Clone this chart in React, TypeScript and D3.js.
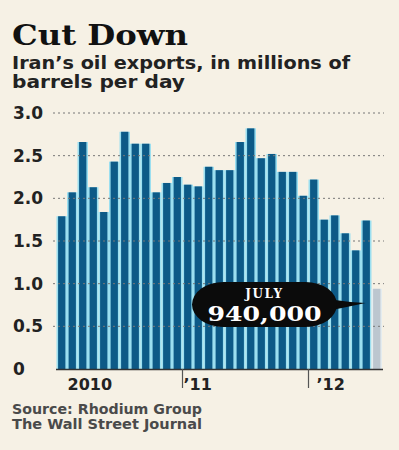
import { useEffect, useRef } from "react";
import * as d3 from "d3";

// monthly exports, Jan 2010 .. Jul 2012 (million barrels/day)
const months = d3.range(31).map((i) => i);
const exportsMbd = [
  1.79, 2.07, 2.66, 2.13, 1.84, 2.43, 2.78, 2.64, 2.64, 2.07, 2.18, 2.25,
  2.16, 2.14, 2.37, 2.33, 2.33, 2.66, 2.82, 2.47, 2.52, 2.31, 2.31, 2.03,
  2.22, 1.75, 1.8, 1.59, 1.39, 1.74, 0.94,
];
const yTicks = [0, 0.5, 1.0, 1.5, 2.0, 2.5, 3.0];
const yearStarts = [0, 12, 24];
const yearLabels = ["2010", "\u201911", "\u201912"];

const App = () => {
  const svgRef = useRef<SVGSVGElement | null>(null);

  useEffect(() => {
    if (!svgRef.current) return;
    document.body.style.margin = "0";

    const width = 399;
    const height = 450;
    const svg = d3.select(svgRef.current).attr("width", width).attr("height", height);
    svg.selectAll("*").remove();

    svg.append("rect").attr("width", width).attr("height", height).attr("fill", "#f6f1e5");

    // titles
    svg
      .append("text")
      .attr("x", 12)
      .attr("y", 45)
      .attr("font-family", "DejaVu Serif")
      .attr("font-weight", "bold")
      .attr("font-size", 27)
      .attr("textLength", 176)
      .attr("lengthAdjust", "spacingAndGlyphs")
      .attr("fill", "#111")
      .text("Cut Down");

    const sub = ["Iran\u2019s oil exports, in millions of", "barrels per day"];
    const subLen = [338, 173];
    sub.forEach((s, i) => {
      svg
        .append("text")
        .attr("x", 12)
        .attr("y", 69 + i * 19)
        .attr("font-family", "DejaVu Sans")
        .attr("font-weight", "bold")
        .attr("font-size", 17)
        .attr("textLength", subLen[i])
        .attr("lengthAdjust", "spacingAndGlyphs")
        .attr("fill", "#222")
        .text(s);
    });

    const x = d3.scaleBand<number>().domain(months).range([56.5, 382]).paddingInner(0);
    const y = d3.scaleLinear().domain([0, 3]).range([369, 113]);

    // bars: light cyan edge, dark core
    const bars = svg.append("g");
    bars
      .selectAll("rect.edge")
      .data(exportsMbd)
      .enter()
      .append("rect")
      .attr("class", "edge")
      .attr("x", (_d, i) => x(i)!)
      .attr("width", x.bandwidth())
      .attr("y", (d) => y(d))
      .attr("height", (d) => y(0) - y(d))
      .attr("fill", (_d, i) => (i === exportsMbd.length - 1 ? "#e4ecef" : "#9bdff0"));
    bars
      .selectAll("rect.core")
      .data(exportsMbd)
      .enter()
      .append("rect")
      .attr("class", "core")
      .attr("x", (_d, i) => x(i)! + 1.6)
      .attr("width", x.bandwidth() - 3.2)
      .attr("y", (d) => y(d))
      .attr("height", (d) => y(0) - y(d))
      .attr("fill", (_d, i) => (i === exportsMbd.length - 1 ? "#bcc6cf" : "#0d5a87"));

    // gridlines
    svg
      .append("g")
      .selectAll("line")
      .data(yTicks.filter((t) => t > 0))
      .enter()
      .append("line")
      .attr("x1", 53)
      .attr("x2", 384)
      .attr("y1", (d) => y(d))
      .attr("y2", (d) => y(d))
      .attr("stroke", "#777")
      .attr("stroke-width", 1)
      .attr("stroke-dasharray", "2,3");

    // y labels
    svg
      .append("g")
      .selectAll("text")
      .data(yTicks)
      .enter()
      .append("text")
      .attr("x", 13)
      .attr("y", (d) => y(d) + 6)
      .attr("font-family", "DejaVu Sans")
      .attr("font-weight", "bold")
      .attr("font-size", 17)
      .attr("fill", "#222")
      .text((d) => (d === 0 ? "0" : d.toFixed(1)));

    // baseline + year ticks
    svg
      .append("line")
      .attr("x1", 56)
      .attr("x2", 383)
      .attr("y1", y(0) + 0.5)
      .attr("y2", y(0) + 0.5)
      .attr("stroke", "#333")
      .attr("stroke-width", 1.5);

    svg
      .append("g")
      .selectAll("line")
      .data(yearStarts.slice(1))
      .enter()
      .append("line")
      .attr("x1", (d) => x(d)!)
      .attr("x2", (d) => x(d)!)
      .attr("y1", y(0))
      .attr("y2", 388)
      .attr("stroke", "#555")
      .attr("stroke-width", 1.2);

    const labelOffset = [11, 1, 8];
    svg
      .append("g")
      .selectAll("text")
      .data(yearStarts)
      .enter()
      .append("text")
      .attr("x", (d, i) => x(d)! + labelOffset[i])
      .attr("y", 390)
      .attr("font-family", "DejaVu Sans")
      .attr("font-weight", "bold")
      .attr("font-size", 16)
      .attr("fill", "#222")
      .text((_d, i) => yearLabels[i]);

    // callout for July
    const last = exportsMbd.length - 1;
    const tipX = x(last)! - 6;
    const tipY = 303;
    const cx0 = 192;
    const cx1 = 337;
    const cy0 = 282;
    const cy1 = 327;
    const r = (cy1 - cy0) / 2;
    const callout = svg.append("g");
    callout
      .append("path")
      .attr(
        "d",
        `M${cx1 - 10},${tipY - 4} Q${cx1 + 10},${tipY - 1} ${tipX},${tipY} Q${cx1 + 10},${tipY + 4} ${cx1 - 10},${tipY + 8} Z`
      )
      .attr("fill", "#0b0b0b");
    callout
      .append("rect")
      .attr("x", cx0)
      .attr("y", cy0)
      .attr("width", cx1 - cx0)
      .attr("height", cy1 - cy0)
      .attr("rx", r * 1.4)
      .attr("ry", r)
      .attr("fill", "#0b0b0b");
    callout
      .append("text")
      .attr("x", (cx0 + cx1) / 2)
      .attr("y", 297.5)
      .attr("text-anchor", "middle")
      .attr("font-family", "DejaVu Serif")
      .attr("font-weight", "bold")
      .attr("font-size", 12)
      .attr("letter-spacing", 1.5)
      .attr("fill", "#fff")
      .text("JULY");
    callout
      .append("text")
      .attr("x", (cx0 + cx1) / 2)
      .attr("y", 321)
      .attr("text-anchor", "middle")
      .attr("font-family", "DejaVu Serif")
      .attr("font-weight", "bold")
      .attr("font-size", 20)
      .attr("textLength", 114)
      .attr("lengthAdjust", "spacingAndGlyphs")
      .attr("fill", "#fff")
      .text(`${d3.format(",")(Math.round(exportsMbd[last] * 1e6))}`);

    // source
    ["Source: Rhodium Group", "The Wall Street Journal"].forEach((s, i) => {
      svg
        .append("text")
        .attr("x", 12)
        .attr("y", 414 + i * 15)
        .attr("font-family", "DejaVu Sans")
        .attr("font-weight", "bold")
        .attr("font-size", 13.5)
        .attr("textLength", 190)
        .attr("lengthAdjust", "spacingAndGlyphs")
        .attr("fill", "#4a4a4a")
        .text(s);
    });
  }, []);

  return <svg ref={svgRef} style={{ display: "block" }}></svg>;
};

export default App;
